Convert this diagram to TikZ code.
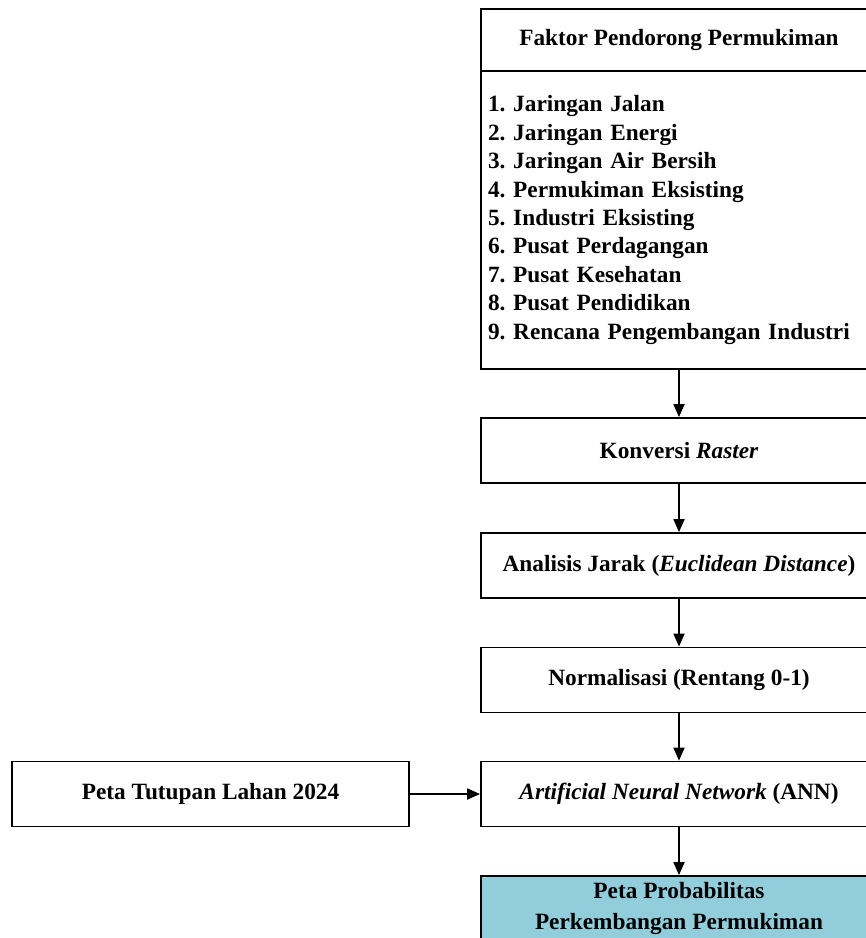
\documentclass[tikz,border=0pt]{standalone}
\usepackage{fontspec}
\setmainfont{Liberation Serif}
\usetikzlibrary{arrows.meta}
\definecolor{hasil}{RGB}{146,205,220}
\frenchspacing
\begin{document}
\begin{tikzpicture}[x=1pt,y=-1pt,line width=1.8pt,
  >={Triangle[length=13pt,width=11pt]},
  font=\fontsize{23.3}{28.4}\selectfont\bfseries,
  kotak/.style={draw,minimum width=396pt,minimum height=65pt,inner sep=0pt}]
  \useasboundingbox (0,0) rectangle (866,938);
  % kolom kanan
  \node[kotak,minimum height=62pt] (judul) at (679,40) {Faktor Pendorong Permukiman};
  \node[kotak,minimum height=298pt,text width=382pt,align=left] (faktor) at (679,220)
    {1. Jaringan Jalan\\
     2. Jaringan Energi\\
     3. Jaringan Air Bersih\\
     4. Permukiman Eksisting\\
     5. Industri Eksisting\\
     6. Pusat Perdagangan\\
     7. Pusat Kesehatan\\
     8. Pusat Pendidikan\\
     9. Rencana Pengembangan Industri};
  \node[kotak] (raster) at (679,450.5) {Konversi \textit{Raster}};
  \node[kotak] (jarak) at (679,565.5) {Analisis Jarak (\textit{Euclidean Distance})};
  \node[kotak] (normal) at (679,680) {Normalisasi (Rentang 0-1)};
  \node[kotak] (ann) at (679,794) {\textit{Artificial Neural Network} (ANN)};
  \node[kotak,fill=hasil,align=center,font=\fontsize{23.3}{31}\selectfont\bfseries]
    (peta) at (679,908.5) {Peta Probabilitas\\Perkembangan Permukiman};
  % kolom kiri
  \node[kotak,minimum width=397pt] (tutupan) at (210.5,794) {Peta Tutupan Lahan 2024};
  \draw[->] (faktor) -- (raster);
  \draw[->] (raster) -- (jarak);
  \draw[->] (jarak) -- (normal);
  \draw[->] (normal) -- (ann);
  \draw[->] (ann) -- (peta);
  \draw[->] (tutupan) -- (ann);
\end{tikzpicture}
\end{document}
